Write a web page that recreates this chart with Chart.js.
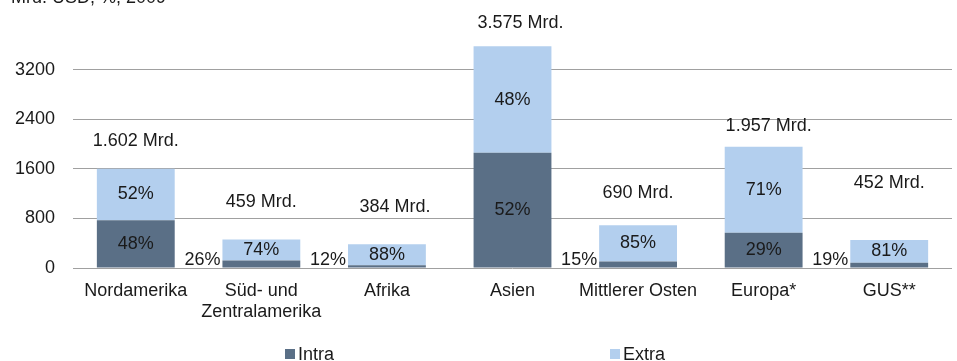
<!DOCTYPE html>
<html>
<head>
<meta charset="utf-8">
<script src="https://cdn.jsdelivr.net/npm/chart.js@4/dist/chart.umd.min.js"></script>
<style>
  html, body { margin: 0; padding: 0; background: #fff; }
  #wrap { width: 957px; height: 361px; }
</style>
</head>
<body>
<div id="wrap"><canvas id="chart" width="957" height="361"></canvas></div>
<script>
// Handelsvolumen nach Region, Mrd. USD, 2009
const regions = ['Nordamerika', ['Süd- und', 'Zentralamerika'], 'Afrika', 'Asien', 'Mittlerer Osten', 'Europa*', 'GUS**'];
const totals = [1602, 459, 384, 3575, 690, 1957, 452];
const totalLabels = ['1.602 Mrd.', '459 Mrd.', '384 Mrd.', '3.575 Mrd.', '690 Mrd.', '1.957 Mrd.', '452 Mrd.'];
const intraShare = [48, 26, 12, 52, 15, 29, 19];
const extraShare = [52, 74, 88, 48, 85, 71, 81];
const yTicks = [0, 800, 1600, 2400, 3200];

// Anteile in Mrd. umrechnen
const intraValues = totals.map((t, i) => t * intraShare[i] / 100);
const extraValues = totals.map((t, i) => t * extraShare[i] / 100);

// Lage der Summen-Beschriftungen (wie im Original frei verschoben)
const totalLift = [28, 38, 37, 23, 32, 21, 57];
const totalShift = [0, 0, 8, 8, 0, 5, 0];

const FONT = 'Liberation Sans, Arial, sans-serif';
const FS = 18;
const TEXT = '#1a1a1a';
const GRID = '#a0a0a0';

const labelPlugin = {
  id: 'barLabels',
  afterDatasetsDraw(chart) {
    const ctx = chart.ctx;
    const intraMeta = chart.getDatasetMeta(0);
    const extraMeta = chart.getDatasetMeta(1);
    ctx.save();
    ctx.font = FS + 'px ' + FONT;
    ctx.fillStyle = TEXT;
    ctx.textBaseline = 'middle';

    intraMeta.data.forEach((bar, i) => {
      const h = bar.base - bar.y;
      if (h > 24) {
        ctx.textAlign = 'center';
        ctx.fillText(intraShare[i] + '%', bar.x, (bar.y + bar.base) / 2);
      } else {
        ctx.textAlign = 'right';
        ctx.fillText(intraShare[i] + '%', bar.x - bar.width / 2 - 2, bar.base - 7);
      }
    });

    extraMeta.data.forEach((bar, i) => {
      ctx.textAlign = 'center';
      ctx.fillText(extraShare[i] + '%', bar.x, (bar.y + bar.base) / 2);
      ctx.fillText(totalLabels[i], bar.x + totalShift[i], bar.y - totalLift[i]);
    });
    ctx.restore();
  },
  afterDraw(chart) {
    const ctx = chart.ctx;
    ctx.save();
    // Untertitel, oben angeschnitten wie im Original
    ctx.font = FS + 'px ' + FONT;
    ctx.fillStyle = TEXT;
    ctx.textAlign = 'left';
    ctx.textBaseline = 'alphabetic';
    ctx.fillText('Mrd. USD, %, 2009', 11, 3);

    // Legende
    const legendX = [285, 610];
    chart.data.datasets.forEach((ds, i) => {
      ctx.fillStyle = ds.backgroundColor;
      ctx.fillRect(legendX[i], 349, 10, 10);
      ctx.fillStyle = TEXT;
      ctx.textBaseline = 'middle';
      ctx.fillText(ds.label, legendX[i] + 13, 355);
    });
    ctx.restore();
  }
};

new Chart(document.getElementById('chart'), {
  type: 'bar',
  data: {
    labels: regions,
    datasets: [
      { label: 'Intra', data: intraValues, backgroundColor: '#5a6f86', barPercentage: 0.62, categoryPercentage: 1 },
      { label: 'Extra', data: extraValues, backgroundColor: '#b3cfee', barPercentage: 0.62, categoryPercentage: 1 }
    ]
  },
  options: {
    responsive: false,
    animation: false,
    layout: { padding: { top: 20, right: 5, left: 0, bottom: 0 } },
    plugins: {
      legend: { display: false },
      tooltip: { enabled: false }
    },
    scales: {
      x: {
        stacked: true,
        grid: { display: false, drawTicks: false },
        border: { display: false },
        ticks: { color: TEXT, font: { family: FONT, size: FS, lineHeight: 1.18 }, padding: 12, maxRotation: 0, autoSkip: false },
        afterFit: (scale) => { scale.height = 93; scale.paddingLeft = 0; scale.paddingRight = 0; }
      },
      y: {
        stacked: true,
        min: 0,
        max: 4000,
        afterBuildTicks: (scale) => { scale.ticks = yTicks.concat([4000]).map(v => ({ value: v })); },
        grid: {
          color: (c) => (c.tick && c.tick.value === 4000 ? 'rgba(0,0,0,0)' : GRID),
          lineWidth: 1,
          drawTicks: false
        },
        border: { display: false },
        ticks: {
          color: TEXT,
          font: { family: FONT, size: FS },
          padding: 18,
          callback: (v) => (yTicks.includes(v) ? String(v) : '')
        },
        afterFit: (scale) => { scale.width = 73; scale.paddingTop = 0; scale.paddingBottom = 0; }
      }
    }
  },
  plugins: [labelPlugin]
});
</script>
</body>
</html>
